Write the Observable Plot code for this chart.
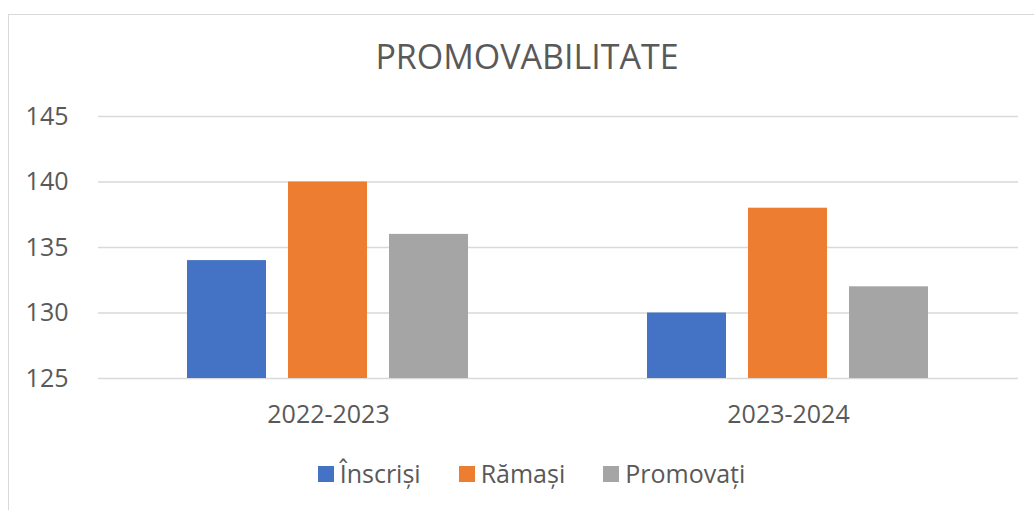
<!DOCTYPE html>
<html>
<head>
<meta charset="utf-8">
<script src="https://cdn.jsdelivr.net/npm/d3@7"></script>
<script src="https://cdn.jsdelivr.net/npm/@observablehq/plot@0.6"></script>
<style>
  html, body { margin: 0; padding: 0; background: #fff; overflow: hidden; width: 1034px; height: 510px; }
  body { position: relative; font-family: "Open Sans", sans-serif; color: #595959; }
  #frame { position: absolute; left: 8px; top: 14px; width: 1100px; height: 600px; border: 1.5px solid #d9d9d9; box-sizing: border-box; }
  #title { position: absolute; left: 0; top: 40px; width: 1054px; text-align: center; font-size: 34px; line-height: 33px; color: #595959; }
  #chart { position: absolute; left: 0; top: 90px; }
  #legend { position: absolute; left: 0; top: 461px; width: 1063px; height: 24px; display: flex; justify-content: center; align-items: center; font-size: 25px; line-height: 24px; color: #595959; }
  .item { display: flex; align-items: center; margin: 0 19px; }
  .sw { width: 16px; height: 16px; margin-right: 6px; position: relative; top: 1px; }
  #chart svg text { fill: #595959; }
</style>
</head>
<body>
<div id="frame"></div>
<div id="title">PROMOVABILITATE</div>
<div id="chart"></div>
<div id="legend"></div>
<script>
const years = ["2022-2023", "2023-2024"];
const series = ["Înscriși", "Rămași", "Promovați"];
const colors = ["#4472C4", "#ED7D31", "#A5A5A5"];
const inscrisi = [134, 130];
const ramasi = [140, 138];
const promovati = [136, 132];
const yDomain = [125, 145];
const yTicks = [125, 130, 135, 140, 145];

const seriesValues = [inscrisi, ramasi, promovati];
const data = [];
years.forEach((yr, i) => {
  series.forEach((s, j) => {
    data.push({year: yr, series: s, value: seriesValues[j][i]});
  });
});

const chart = Plot.plot({
  width: 1034,
  height: 350,
  marginTop: 26,
  marginBottom: 62,
  marginLeft: 97,
  marginRight: 16,
  style: {fontFamily: "Open Sans, sans-serif", fontSize: "25px", color: "#595959", background: "transparent"},
  fx: {domain: years, padding: 0, label: null, axis: "bottom", tickSize: 0, tickPadding: 27, fontSize: 25.5},
  x: {domain: series, paddingInner: 0.2157, paddingOuter: 0.865, axis: null},
  y: {domain: yDomain, ticks: yTicks, label: null, tickSize: 0, tickPadding: 30},
  color: {domain: series, range: colors},
  marks: [
    Plot.ruleY(yTicks, {stroke: "#d9d9d9", strokeWidth: 1.5, strokeOpacity: 1}),
    Plot.barY(data, {fx: "year", x: "series", y1: () => yDomain[0], y2: "value", fill: "series", inset: 0})
  ]
});
document.getElementById("chart").appendChild(chart);

const legend = document.getElementById("legend");
series.forEach((s, j) => {
  const it = document.createElement("div");
  it.className = "item";
  const sw = document.createElement("div");
  sw.className = "sw";
  sw.style.background = colors[j];
  const tx = document.createElement("span");
  tx.textContent = s;
  it.appendChild(sw);
  it.appendChild(tx);
  legend.appendChild(it);
});
</script>
</body>
</html>
